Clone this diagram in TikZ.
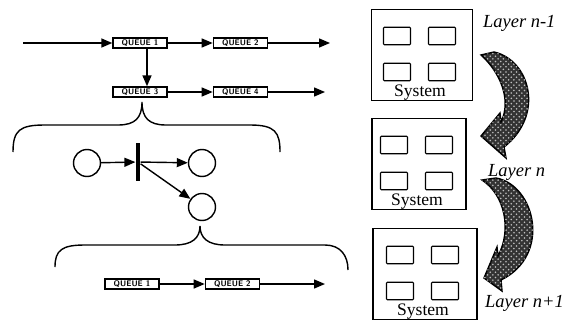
\documentclass[tikz,border=0pt]{standalone}
\usepackage{fontspec}
\setmainfont{Liberation Serif}
\usetikzlibrary{arrows.meta,positioning,patterns}

\begin{document}
\begin{tikzpicture}[x=0.02cm,y=-0.02cm,node distance=0.9cm,
        queue/.style={rectangle,draw,thick,minimum width=1.08cm,minimum height=0.2cm,
          inner sep=0pt,font=\fontsize{4.6}{5}\selectfont\sffamily\bfseries},
        arrow/.style={-{Triangle[length=2.2mm,width=1.8mm]},thick},
        place/.style={circle,draw,thick,minimum size=0.54cm,inner sep=0pt},
        trans/.style={rectangle,fill=black,minimum width=0.09cm,minimum height=0.76cm,inner sep=0pt},
        sysbox/.style={rectangle,draw,semithick,minimum height=1.82cm,inner sep=0pt},
        unit/.style={rectangle,draw,semithick,rounded corners=0.5pt,minimum width=0.54cm,
          minimum height=0.35cm,inner sep=0pt},
        brace/.style={thick},
        fatarrow/.style={draw,thick,fill=black!80,
          postaction={pattern=crosshatch dots,pattern color=black!25}},
        layer/.style={anchor=west,font=\fontsize{10.5}{12}\selectfont\itshape}]
        \useasboundingbox (0,0) rectangle (567,325);

        % queues
        \coordinate (in1) at (23,43);
        \node[queue] (q1) at (140,43) {QUEUE 1};
        \node[queue,right=of q1] (q2) {QUEUE 2};
        \coordinate (out1) at (330,43);
        \node[queue] (q3) at (140,92) {QUEUE 3};
        \node[queue,right=of q3] (q4) {QUEUE 4};
        \coordinate (out2) at (325,92);
        \draw[arrow] (in1) -- (q1);
        \draw[arrow] (q1) -- (q2);
        \draw[arrow] (q2) -- (out1);
        \draw[arrow] ([xshift=0.14cm]q1.south) -- ([xshift=0.14cm]q3.north);
        \draw[arrow] (q3) -- (q4);
        \draw[arrow] (q4) -- (out2);

        % braces
        \draw[brace] (13,152) .. controls (13,130) and (20,125) .. (45,125) -- (118,125)
          .. controls (135,125) and (142,118) .. (142,102)
          .. controls (142,118) and (149,125) .. (166,125) -- (250,125)
          .. controls (275,125) and (280,132) .. (280,152);
        \draw[brace] (55,267) .. controls (55,250) and (62,245) .. (85,245) -- (175,245)
          .. controls (192,245) and (200,238) .. (200,226)
          .. controls (200,238) and (208,245) .. (225,245) -- (325,245)
          .. controls (340,245) and (348,255) .. (348,270);

        % petri net
        \node[place] (p1) at (87,163) {};
        \node[trans] (t) at (138,162) {};
        \node[place] (p2) at (202,163) {};
        \node[place] (p3) at (202,207) {};
        \draw[arrow] (p1) -- (t);
        \draw[arrow] (t) -- (p2);
        \draw[arrow] (t) -- (p3);

        \node[queue] (r1) at (132,284) {QUEUE 1};
        \node[queue,right=of r1] (r2) {QUEUE 2};
        \coordinate (out3) at (325,284);
        \draw[arrow] (r1) -- (r2);
        \draw[arrow] (r2) -- (out3);

        % layers
        \foreach \n/\cx/\cy/\w in {1/422/55/2.02, 2/419/164/1.88, 3/425/274/2.08} {
          \node[sysbox,minimum width=\w cm] (sys\n) at (\cx,\cy) {};
          \node[unit] (u\n a) at ([shift={(-25,-19)}]sys\n.center) {};
          \node[unit] (u\n b) at ([shift={(20,-19)}]sys\n.center) {};
          \node[unit] (u\n c) at ([shift={(-25,17)}]sys\n.center) {};
          \node[unit] (u\n d) at ([shift={(20,17)}]sys\n.center) {};
          \node[anchor=south,inner sep=0.5pt,font=\fontsize{10}{11}\selectfont] (s\n) at ([xshift=-0.04cm]sys\n.south) {System};
        }
        \node[layer] (l1) at (477,23) {Layer n-1};
        \node[layer] (l2) at (482,172) {Layer n};
        \node[layer] (l3) at (479,303) {Layer n+1};

        \draw[fatarrow] (481,55) -- (494,52) .. controls (530,60) and (545,115) .. (504,147)
          -- (506,158) -- (481,136) -- (500,113) -- (501,122)
          .. controls (512,100) and (500,72) .. (481,55) -- cycle;
        \draw[fatarrow] (482,180) -- (496,178) .. controls (535,185) and (552,255) .. (501,280)
          -- (502,291) -- (484,278) -- (497,247) -- (498,256)
          .. controls (512,230) and (505,195) .. (482,180) -- cycle;
      \end{tikzpicture}
\end{document}
